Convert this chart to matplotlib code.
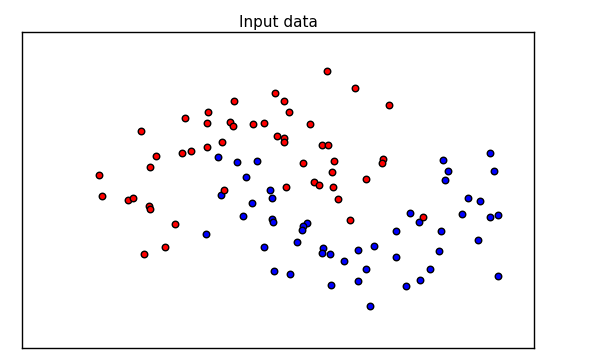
import matplotlib
matplotlib.use("Agg")
import matplotlib.pyplot as plt
import numpy as np

# class 0 (red)
red_x = [0.49, 0.77, 1.11, -0.03, 0.06, -0.44, 0.11, -0.70, -0.93, -0.71,
         -0.48, -0.45, -0.25, -0.14, 0.32, -1.37, -0.01, 0.06, 0.06, -0.56,
         0.44, 0.50, -1.22, -0.96, -0.87, -0.71, 0.25, 0.56, 1.05, 1.04,
         -1.79, -1.28, 0.54, 0.88, 0.36, 0.41, 0.08, 0.55, -0.54, -1.76,
         -1.50, -1.45, -1.29, -1.28, 0.60, -1.03, 0.72, 1.45, -1.13, -1.34]
red_y = [1.19, 1.02, 0.85, 0.97, 0.89, 0.89, 0.78, 0.78, 0.72, 0.67,
         0.68, 0.64, 0.66, 0.67, 0.66, 0.59, 0.54, 0.52, 0.48, 0.48,
         0.45, 0.45, 0.34, 0.37, 0.39, 0.43, 0.27, 0.29, 0.31, 0.27,
         0.15, 0.23, 0.18, 0.11, 0.08, 0.05, 0.03, 0.03, 0.00, -0.06,
         -0.10, -0.08, -0.16, -0.19, -0.09, -0.34, -0.30, -0.27, -0.57, -0.64]

# class 1 (blue)
blue_x = [-0.60, -0.41, -0.21, -0.32, -0.08, -0.57, -0.06, -0.26, -0.35, -0.06,
          -0.05, -0.72, -0.14, -0.04, 0.29, 0.25, 0.24, 0.19, 0.45, 0.44,
          0.52, 0.80, 0.96, 0.66, 0.12, 0.53, 0.80, 0.88, 0.92, 1.18,
          1.18, 1.32, 1.41, 1.63, 1.61, 1.52, 1.42, 1.28, 1.65, 1.70,
          1.67, 2.12, 2.16, 1.90, 2.02, 1.84, 2.12, 2.20, 2.00, 2.20]
blue_y = [0.33, 0.28, 0.29, 0.13, 0.00, -0.05, -0.08, -0.13, -0.26, -0.29,
          -0.32, -0.44, -0.57, -0.81, -0.33, -0.36, -0.40, -0.52, -0.58, -0.63,
          -0.64, -0.60, -0.56, -0.71, -0.84, -0.95, -0.91, -0.79, -1.16, -0.41,
          -0.67, -0.23, -0.32, -0.41, -0.61, -0.79, -0.90, -0.96, 0.30, 0.19,
          0.10, 0.37, 0.19, -0.08, -0.11, -0.24, -0.27, -0.25, -0.50, -0.86]

fig = plt.figure(figsize=(5.91, 3.61), dpi=100)
ax = fig.add_axes([22 / 591, 13 / 361, 512 / 591, 316 / 361])

ax.scatter(blue_x, blue_y, s=22, c="#0000FF", edgecolors="black", linewidths=1)
ax.scatter(red_x, red_y, s=22, c="#FF0000", edgecolors="black", linewidths=1)

ax.set_xlim(-2.56, 2.56)
ax.set_ylim(-1.58, 1.58)
ax.set_xticks(())
ax.set_yticks(())
for sp in ax.spines.values():
    sp.set_color("black")
    sp.set_linewidth(1)
ax.set_title("Input data", fontsize=11, pad=3.6)

fig.savefig("out.png", dpi=100)
